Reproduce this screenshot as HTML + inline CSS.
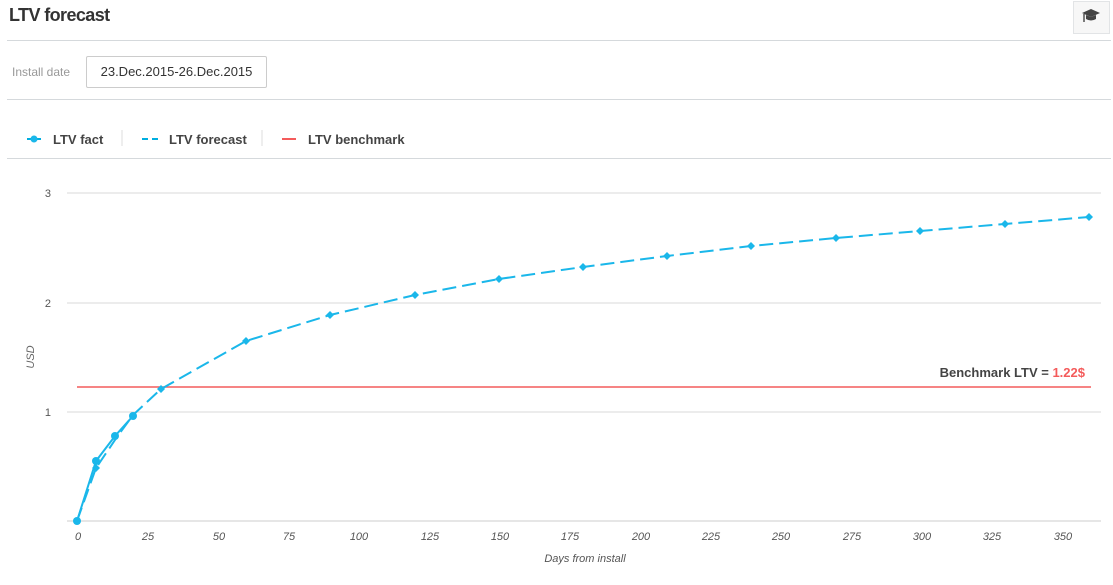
<!DOCTYPE html>
<html><head><style>
body{margin:0;width:1113px;height:585px;background:#fff;font-family:"Liberation Sans",sans-serif;position:relative;overflow:hidden}
.a{position:absolute}
</style></head><body>
<div class="a" style="left:9px;top:5px;font-size:18px;font-weight:bold;color:#333;letter-spacing:-0.6px">LTV forecast</div>
<div class="a" style="left:1073px;top:1px;width:35px;height:31px;border:1px solid #e2e4e6;background:#f7f7f7"></div>
<svg class="a" style="left:1080px;top:7px" width="22" height="20" viewBox="0 0 22 20"><path d="M2 6 L11 2 L20 6 L11 10Z" fill="#444"/><path d="M6 8 v4 q5 3 10 0 v-4 l-5 2z" fill="#444"/><path d="M4 7 v8" stroke="#444" stroke-width="1.4"/></svg>
<div class="a" style="left:7px;top:40px;width:1104px;height:1px;background:#d5d9dc"></div>
<div class="a" style="left:12px;top:65px;font-size:12px;color:#999">Install date</div>
<div class="a" style="left:86px;top:56px;width:179px;height:30px;border:1px solid #ccc;border-radius:2px;font-size:13px;color:#333;line-height:30px;text-align:center">23.Dec.2015-26.Dec.2015</div>
<div class="a" style="left:7px;top:99px;width:1104px;height:1px;background:#d5d9dc"></div>
<div class="a" style="left:7px;top:158px;width:1104px;height:1px;background:#d5d9dc"></div>
<svg class="a" style="left:0;top:0" width="1113" height="585">
<g stroke="#00aee0" fill="#1ab7ea">
<line x1="27" y1="139" x2="41" y2="139" stroke-width="2"/><circle cx="34" cy="139" r="3.5" stroke="none"/>
<line x1="142" y1="139" x2="161" y2="139" stroke-width="2" stroke-dasharray="6,4"/>
</g>
<line x1="122" y1="130" x2="122" y2="146" stroke="#ddd"/>
<line x1="262" y1="130" x2="262" y2="146" stroke="#ddd"/>
<line x1="282" y1="139" x2="296" y2="139" stroke="#f45b5b" stroke-width="2"/>
<g font-size="13" font-weight="bold" fill="#444"><text x="53" y="144">LTV fact</text><text x="169" y="144">LTV forecast</text><text x="308" y="144">LTV benchmark</text></g>
<g stroke="#d8d8d8"><line x1="67" y1="193" x2="1101" y2="193"/><line x1="67" y1="303" x2="1101" y2="303"/><line x1="67" y1="412" x2="1101" y2="412"/><line x1="67" y1="521" x2="1101" y2="521" stroke="#ccc"/></g>
<g font-size="11" fill="#555" text-anchor="end"><text x="51" y="197">3</text><text x="51" y="307">2</text><text x="51" y="416">1</text></g>
<text transform="translate(34,357) rotate(-90)" font-size="11" font-style="italic" fill="#666" text-anchor="middle">USD</text>
<g font-size="11" font-style="italic" fill="#555" text-anchor="middle">
<text x="78" y="540">0</text><text x="148" y="540">25</text><text x="219" y="540">50</text><text x="289" y="540">75</text><text x="359" y="540">100</text><text x="430" y="540">125</text><text x="500" y="540">150</text><text x="570" y="540">175</text><text x="641" y="540">200</text><text x="711" y="540">225</text><text x="781" y="540">250</text><text x="852" y="540">275</text><text x="922" y="540">300</text><text x="992" y="540">325</text><text x="1063" y="540">350</text>
<text x="585" y="562">Days from install</text></g>
<line x1="77" y1="387" x2="1091" y2="387" stroke="#f45b5b" stroke-width="1.5"/>
<text x="1085" y="377" font-size="13" font-weight="bold" fill="#444" text-anchor="end">Benchmark LTV = <tspan fill="#f45b5b">1.22$</tspan></text>
<polyline fill="none" stroke="#1ab7ea" stroke-width="2" stroke-dasharray="14,6" points="77,521 96,468 117,437 133,415 161,389 246,341 330,315 415,295 499,279 583,267 667,256 751,246 836,238 920,231 1005,224 1089,217"/>
<g fill="#1ab7ea"><path d="M96,464 l4,4 -4,4 -4,-4z M161,385 l4,4 -4,4 -4,-4z M246,337 l4,4 -4,4 -4,-4z M330,311 l4,4 -4,4 -4,-4z M415,291 l4,4 -4,4 -4,-4z M499,275 l4,4 -4,4 -4,-4z M583,263 l4,4 -4,4 -4,-4z M667,252 l4,4 -4,4 -4,-4z M751,242 l4,4 -4,4 -4,-4z M836,234 l4,4 -4,4 -4,-4z M920,227 l4,4 -4,4 -4,-4z M1005,220 l4,4 -4,4 -4,-4z M1089,213 l4,4 -4,4 -4,-4z"/></g>
<polyline fill="none" stroke="#1ab7ea" stroke-width="2" points="77,521 96,461 115,436 133,416"/>
<g fill="#1ab7ea"><circle cx="77" cy="521" r="4"/><circle cx="96" cy="461" r="4"/><circle cx="115" cy="436" r="4"/><circle cx="133" cy="416" r="4"/></g>
</svg>
</body></html>
